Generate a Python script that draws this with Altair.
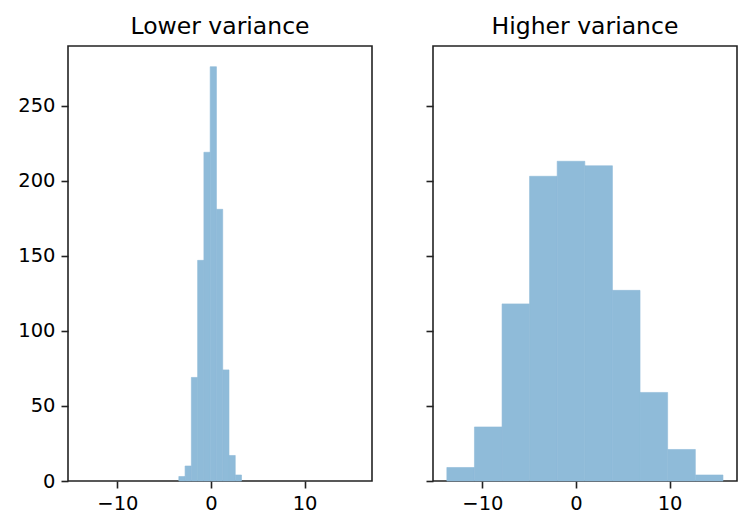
import altair as alt
import pandas as pd

# histogram bin edges and counts (10 bins each, 1000 samples)
low_edges = [-3.44, -2.77, -2.10, -1.43, -0.76, -0.09, 0.58, 1.25, 1.92, 2.59, 3.26]
low_counts = [3, 10, 69, 147, 219, 276, 181, 74, 17, 4]

high_edges = [-13.80, -10.85, -7.90, -4.96, -2.01, 0.94, 3.89, 6.84, 9.79, 12.75, 15.70]
high_counts = [9, 36, 118, 203, 213, 210, 127, 59, 21, 4]

x_ticks = [-10, 0, 10]
y_ticks = [0, 50, 100, 150, 200, 250]


def to_frame(edges, counts):
    return pd.DataFrame({
        "left": edges[:-1],
        "right": edges[1:],
        "count": counts,
    })


x_scale = alt.Scale(domain=[-15.28, 17.2], nice=False, zero=False)
y_scale = alt.Scale(domain=[0, 289.8], nice=False)

# C0 at alpha 0.5 over white, drawn opaque so neighbouring bars show no seams
bar_color = "#8fbbd9"


def hist_panel(df, title, show_labels):
    return alt.Chart(df).mark_rect(
        color=bar_color, stroke=bar_color, strokeWidth=0.6
    ).encode(
        x=alt.X("left:Q", scale=x_scale, title=None,
                axis=alt.Axis(values=x_ticks, format="d")),
        x2="right:Q",
        y=alt.Y("count:Q", scale=y_scale, title=None,
                axis=alt.Axis(values=y_ticks, labels=show_labels)),
        y2=alt.datum(0),
    ).properties(
        width=304,
        height=435,
        title=title,
    )


left = hist_panel(to_frame(low_edges, low_counts), "Lower variance", True)
right = hist_panel(to_frame(high_edges, high_counts), "Higher variance", False)

chart = alt.hconcat(left, right, spacing=61, bounds="flush").properties(
    padding={"left": 8, "top": 5, "right": 0, "bottom": 0},
).configure_view(
    stroke="#222222",
    strokeWidth=1.6,
).configure_axis(
    domain=False,
    grid=False,
    tickColor="#222222",
    tickSize=7,
    tickWidth=1.6,
    labelColor="#000000",
    labelFont="DejaVu Sans",
    labelFontSize=19.5,
    labelPadding=6,
).configure_title(
    font="DejaVu Sans",
    fontSize=23.5,
    fontWeight="normal",
    color="#000000",
    offset=8,
)

chart.save("out.html", embed_options={"renderer": "svg", "actions": False})
